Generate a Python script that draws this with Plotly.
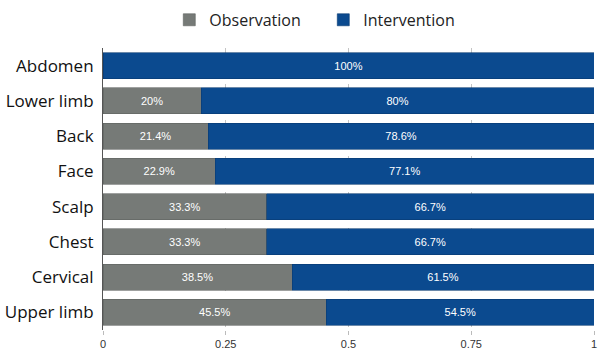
import plotly.graph_objects as go

categories = ["Abdomen", "Lower limb", "Back", "Face", "Scalp", "Chest", "Cervical", "Upper limb"]
observation = [0, 0.2, 0.214, 0.229, 0.333, 0.333, 0.385, 0.455]
intervention = [1, 0.8, 0.786, 0.771, 0.667, 0.667, 0.615, 0.545]
obs_labels = ["", "20%", "21.4%", "22.9%", "33.3%", "33.3%", "38.5%", "45.5%"]
int_labels = ["100%", "80%", "78.6%", "77.1%", "66.7%", "66.7%", "61.5%", "54.5%"]
tick_vals = [0, 0.25, 0.5, 0.75, 1]
tick_text = ["0", "0.25", "0.5", "0.75", "1"]

GRAY = "#767a77"
BLUE = "#0b4a8f"

fig = go.Figure()
fig.add_trace(go.Bar(
    y=categories, x=observation, orientation="h", name="Observation",
    marker=dict(color=GRAY, line=dict(color="#5f6360", width=0.6)),
    text=obs_labels, textposition="inside", insidetextanchor="middle",
    textfont=dict(color="white", size=11, family="Liberation Sans, Arial"),
    hoverinfo="skip",
))
fig.add_trace(go.Bar(
    y=categories, x=intervention, orientation="h", name="Intervention",
    marker=dict(color=BLUE, line=dict(color="#083a72", width=0.6)),
    text=int_labels, textposition="inside", insidetextanchor="middle",
    textfont=dict(color="white", size=11, family="Liberation Sans, Arial"),
    hoverinfo="skip",
))

fig.update_layout(
    barmode="stack",
    bargap=0.26,
    width=600, height=353,
    margin=dict(l=103, r=3, t=43, b=18),
    paper_bgcolor="white", plot_bgcolor="white",
    uniformtext=dict(mode="show", minsize=8),
    showlegend=True,
    legend=dict(
        orientation="h", x=0.135, y=1.16, xanchor="left", yanchor="top",
        font=dict(family="Open Sans", size=16, color="#222222"),
        itemwidth=30, entrywidth=109, entrywidthmode="pixels",
        traceorder="normal",
    ),
    xaxis=dict(
        range=[0, 1], tickvals=tick_vals, ticktext=tick_text,
        showgrid=True, gridcolor="#c4c4c4", griddash="dash", gridwidth=1,
        zeroline=False, showline=False,
        ticks="outside", ticklen=4, tickcolor="#bbbbbb",
        ticklabeloverflow="allow",
        tickfont=dict(family="Liberation Sans, Arial", size=11, color="#333333"),
    ),
    yaxis=dict(
        autorange="reversed", showline=True, linecolor="#555555", linewidth=1,
        ticks="", tickfont=dict(family="Open Sans", size=17, color="#111111"),
        ticklabelstandoff=5,
    ),
)

fig.write_html("out.html")
